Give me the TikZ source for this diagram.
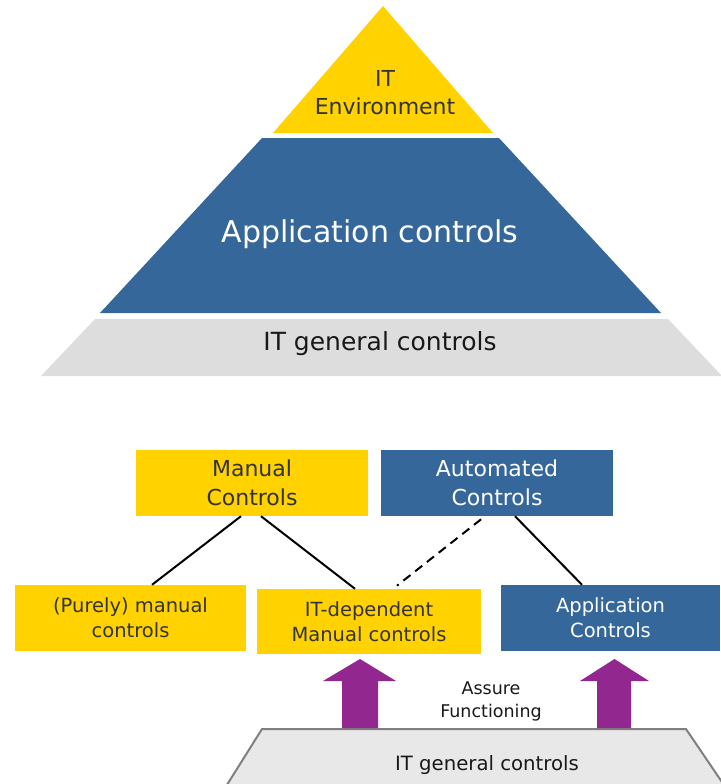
\documentclass[tikz,border=0pt]{standalone}
\usepackage{fontspec}
\setmainfont{DejaVu Sans}
\definecolor{ctyellow}{HTML}{FFD200}
\definecolor{ctblue}{HTML}{35679A}
\definecolor{ctgray}{HTML}{DDDDDD}
\definecolor{ctlight}{HTML}{E8E8E8}
\definecolor{ctedge}{HTML}{808080}
\definecolor{ctpurple}{HTML}{92278F}
\definecolor{cttext}{HTML}{333333}
\begin{document}
\begin{tikzpicture}[x=1pt,y=-1pt,
  ybox/.style={rectangle,fill=ctyellow,text=cttext,inner sep=0pt,align=center},
  bbox/.style={rectangle,fill=ctblue,text=white,inner sep=0pt,align=center},
  link/.style={black,line width=2pt},
  big/.style={font=\fontsize{22}{29}\selectfont},
  small/.style={font=\fontsize{19.5}{25}\selectfont}]
\useasboundingbox (0,0) rectangle (720,784);
% pyramid
\fill[ctyellow] (383,6) -- (493,133) -- (273,133) -- cycle;
\fill[ctblue] (262,138) -- (499,138) -- (661,313) -- (100,313) -- cycle;
\fill[ctgray] (95,319) -- (668,319) -- (722,376) -- (41,376) -- cycle;
\node[text=cttext,align=center,font=\fontsize{22}{28}\selectfont] (env) at (385,93) {IT\\Environment};
\node[text=white,font=\fontsize{30}{36}\selectfont] (appl) at (370,234) {Application controls};
\node[text=black!90,font=\fontsize{25}{30}\selectfont] (gen) at (380,344) {IT general controls};
% control types
\node[ybox,big,minimum width=232pt,minimum height=66pt] (manual) at (252,483) {Manual\\Controls};
\node[bbox,big,minimum width=232pt,minimum height=66pt] (auto) at (497,483) {Automated\\Controls};
\node[ybox,small,minimum width=231pt,minimum height=66pt] (purely) at (130.5,618) {(Purely) manual\\controls};
\node[ybox,small,minimum width=224pt,minimum height=65pt] (itdep) at (369,621.5) {IT-dependent\\Manual controls};
\node[bbox,small,minimum width=219pt,minimum height=66pt] (appc) at (610.5,618) {Application\\Controls};
\draw[link] ([xshift=-11pt]manual.south) -- ([xshift=21.5pt]purely.north);
\draw[link] ([xshift=9pt]manual.south) -- ([xshift=-14pt]itdep.north);
\draw[link,dash pattern=on 9pt off 6pt,shorten <=5pt,shorten >=5pt] ([xshift=-12pt]auto.south) -- ([xshift=24pt]itdep.north);
\draw[link] ([xshift=18pt]auto.south) -- ([xshift=-28.5pt]appc.north);
% base
\fill[ctlight] (225,788) -- (262,729) -- (686,729) -- (726,788) -- cycle;
\draw[ctedge,line width=2pt] (225,788) -- (262,729) -- (686,729) -- (726,788);
\node[text=black!90,font=\fontsize{19.7}{24}\selectfont] (base) at (487,765) {IT general controls};
\node[text=black!90,align=center,font=\fontsize{17.5}{23}\selectfont] (assure) at (491,701.5) {Assure\\Functioning};
\fill[ctpurple] (342,728) -- (342,681) -- (323,681) -- (360,659) -- (396,681) -- (378,681) -- (378,728) -- cycle;
\fill[ctpurple] (597,728) -- (597,681) -- (580,681) -- (614.5,659) -- (649,681) -- (631,681) -- (631,728) -- cycle;
\end{tikzpicture}
\end{document}
